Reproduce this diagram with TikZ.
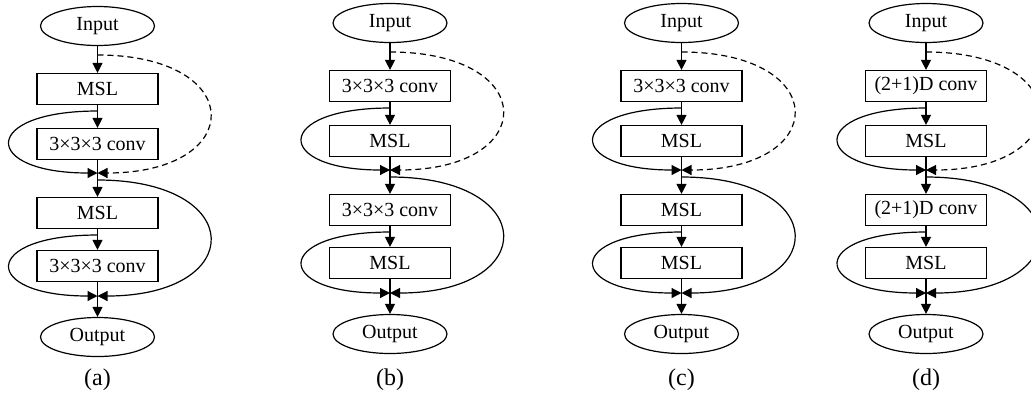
\documentclass[tikz,border=0pt]{standalone}
\usepackage{fontspec}
\setmainfont{Liberation Serif}
\usetikzlibrary{arrows.meta, shapes.geometric}

\tikzset{
  block/.style={draw, minimum width=60.5pt, minimum height=15.5pt, inner sep=0pt,
    font=\fontsize{10}{12}\selectfont},
  io/.style={draw, ellipse, minimum width=57pt, minimum height=19.5pt, inner sep=0pt,
    font=\fontsize{10}{12}\selectfont},
  flow/.style={-{Triangle[length=5pt,width=5pt]}},
  bypass/.style={-{Triangle[length=5pt,width=5pt]}},
  shortcut/.style={bypass, dash pattern=on 3pt off 2pt},
}

\begin{document}
\begin{tikzpicture}[x=0.5pt, y=-0.5pt, line width=0.6pt]
  \useasboundingbox (0,0) rectangle (1031,398);
  \foreach \n/\cx/\dy/\ta/\tb/\tc/\td in {
      a/97.5/3/MSL/{3×3×3 conv}/MSL/{3×3×3 conv},
      b/390/0/{3×3×3 conv}/MSL/{3×3×3 conv}/MSL,
      c/681.5/0/{3×3×3 conv}/MSL/MSL/MSL,
      d/926/0/{(2+1)D conv}/MSL/{(2+1)D conv}/MSL}{
    % blocks of one panel
    \node[io] (\n-in) at (\cx,23+\dy) {Input};
    \node[block] (\n-b1) at (\cx,86+\dy) {\ta};
    \node[block] (\n-b2) at (\cx,141+\dy) {\tb};
    \node[block] (\n-b3) at (\cx,210+\dy) {\tc};
    \node[block] (\n-b4) at (\cx,263+\dy) {\td};
    \node[io] (\n-out) at (\cx,334+\dy) {Output};
    \node[font=\fontsize{12}{14}\selectfont] (\n-lab) at (\cx,380) {(\n)};
    % branch and merge points
    \coordinate (\n-s1) at (\cx,52+\dy);
    \coordinate (\n-s2) at (\cx,108+\dy);
    \coordinate (\n-m1) at (\cx,170+\dy);
    \coordinate (\n-s3) at (\cx,177+\dy);
    \coordinate (\n-s4) at (\cx,232+\dy);
    \coordinate (\n-m2) at (\cx,293+\dy);
    % main flow
    \draw[flow] (\n-in) -- (\n-b1);
    \draw[flow] (\n-b1) -- (\n-b2);
    \draw[flow] (\n-b2) -- (\n-b3);
    \draw[flow] (\n-b3) -- (\n-b4);
    \draw[flow] (\n-b4) -- (\n-out);
    % skip connections
    \draw[shortcut] (\n-s1) .. controls +(150,0) and +(150,0) .. (\n-m1);
    \draw[bypass] (\n-s2) .. controls +(-117,0) and +(-117,0) .. (\n-m1);
    \draw[bypass] (\n-s3) .. controls +(150,0) and +(150,0) .. (\n-m2);
    \draw[bypass] (\n-s4) .. controls +(-117,0) and +(-117,0) .. (\n-m2);
  }
\end{tikzpicture}
\end{document}
